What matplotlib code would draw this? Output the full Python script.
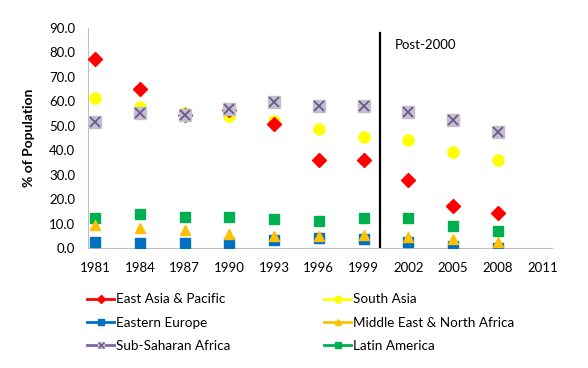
import numpy as np
import matplotlib
matplotlib.use("Agg")
import matplotlib.pyplot as plt
from matplotlib.lines import Line2D
from matplotlib.legend_handler import HandlerTuple

plt.rcParams['font.family'] = ['Lato', 'DejaVu Sans']

years = [1981, 1984, 1987, 1990, 1993, 1996, 1999, 2002, 2005, 2008]
east_asia = [77.3, 65.2, 54.3, 56.6, 50.9, 36.1, 35.9, 27.8, 17.2, 14.5]
south_asia = [61.2, 57.7, 55.3, 53.9, 52.1, 48.7, 45.4, 44.1, 39.3, 36.1]
eastern_europe = [2.3, 1.9, 1.9, 2.0, 3.1, 3.9, 3.8, 2.5, 0.7, 0.1]
mena = [9.5, 8.0, 7.2, 5.9, 5.0, 4.8, 5.2, 4.5, 3.8, 2.5]
ssa = [51.6, 55.3, 54.6, 56.9, 59.9, 58.2, 58.0, 55.7, 52.5, 47.5]
latin_america = [12.3, 13.9, 12.5, 12.7, 11.7, 11.2, 12.1, 12.1, 8.9, 6.8]

xticks = list(range(1981, 2012, 3))
yticks = np.arange(0, 91, 10)

fig = plt.figure(figsize=(5.88, 3.68), dpi=100)
ax = fig.add_axes([0.149, 0.326, 0.789, 0.598])

# draw order: bottom first
ax.plot(years, south_asia, ls='none', marker='o', ms=8, color='#FFFF00', mec='#FFFF00', zorder=3)
ax.plot(years, east_asia, ls='none', marker='D', ms=7.5, color='#FF0000', zorder=4)
ax.plot(years, ssa, ls='none', marker='s', ms=8.5, color='#C4BFCC', zorder=5)
ax.plot(years, ssa, ls='none', marker='x', ms=7.5, mew=1.3, color='#6A5A8C', zorder=6)
ax.plot(years, latin_america, ls='none', marker='s', ms=7.5, color='#00B050', zorder=3)
ax.plot(years, eastern_europe, ls='none', marker='s', ms=7, color='#0070C0', zorder=3)
ax.plot(years, mena, ls='none', marker='^', ms=7.5, color='#FFC000', zorder=4)

ax.plot([2000.1, 2000.1], [0, 88], color='black', lw=1.6, zorder=7)
ax.text(2001.1, 83, 'Post-2000', fontsize=9.5, va='center', ha='left')

ax.set_xlim(1980.5, 2011.6)
ax.set_ylim(0, 90)
ax.set_xticks(xticks)
ax.set_yticks(yticks)
ax.set_yticklabels([f'{v:.1f}' for v in yticks])
ax.tick_params(length=0, labelsize=9.5)
ax.tick_params(axis='x', pad=10)
ax.tick_params(axis='y', pad=9)
ax.set_ylabel('% of Population', fontsize=10, fontweight='bold', labelpad=10)
for side in ['top', 'right']:
    ax.spines[side].set_visible(False)
for side in ['left', 'bottom']:
    ax.spines[side].set_color('#BFBFBF')

h_ea = Line2D([], [], color='#FF0000', marker='D', ms=4, lw=2)
h_sa = Line2D([], [], color='#FFFF00', marker='o', ms=5, lw=2)
h_ee = Line2D([], [], color='#0070C0', marker='s', ms=5, lw=2)
h_me = Line2D([], [], color='#FFC000', marker='^', ms=5, lw=2)
h_ssa = (Line2D([], [], color='#8064A2', marker='s', ms=5, mfc='#C4BFCC', mec='#C4BFCC', lw=2),
         Line2D([], [], ls='none', marker='x', ms=4, mew=1, color='#6A5A8C'))
h_la = Line2D([], [], color='#00B050', marker='s', ms=5, lw=2)

handles = [h_ea, h_ee, h_ssa, h_sa, h_me, h_la]
labels = ['East Asia & Pacific', 'Eastern Europe', 'Sub-Saharan Africa',
          'South Asia', 'Middle East & North Africa', 'Latin America']
fig.legend(handles, labels, ncol=2, loc='upper left', bbox_to_anchor=(0.128, 0.236),
           frameon=False, fontsize=9.7, handlelength=2.0, handletextpad=0.1,
           columnspacing=7.0, labelspacing=0.85,
           handler_map={tuple: HandlerTuple(ndivide=1, pad=0)})

fig.savefig('out.png', dpi=100)
